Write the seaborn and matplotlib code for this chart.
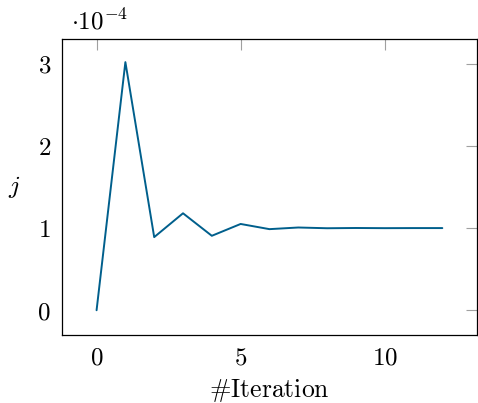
import matplotlib
matplotlib.use("Agg")
import matplotlib.pyplot as plt
import seaborn as sns
import pandas as pd

iterations = [0, 1, 2, 3, 4, 5, 6, 7, 8, 9, 10, 11, 12]
j_values = [0.0, 3.02e-4, 0.89e-4, 1.18e-4, 0.906e-4, 1.05e-4, 0.987e-4,
            1.007e-4, 0.998e-4, 1.001e-4, 0.999e-4, 1.0e-4, 1.0e-4]
x_ticks = [0, 5, 10]
y_ticks = [0, 1e-4, 2e-4, 3e-4]
y_tick_labels = ["0", "1", "2", "3"]

sns.set_style("white")
plt.rcParams["mathtext.fontset"] = "cm"
plt.rcParams["font.family"] = ["DejaVu Serif"]
plt.rcParams["text.color"] = "black"
plt.rcParams["axes.labelcolor"] = "black"
plt.rcParams["xtick.labelcolor"] = "black"
plt.rcParams["ytick.labelcolor"] = "black"

df = pd.DataFrame({"iter": iterations, "j": j_values})

fig = plt.figure(figsize=(4.78, 4.03), dpi=100)
ax = fig.add_axes([0.1297, 0.169, 0.868, 0.734])
sns.lineplot(data=df, x="iter", y="j", ax=ax, color="#005f8c", linewidth=1.4)

ax.set_xlim(-1.2, 13.2)
ax.set_ylim(-0.3e-4, 3.3e-4)
ax.set_xticks(x_ticks)
ax.set_xticklabels([f"${t}$" for t in x_ticks])
ax.set_yticks(y_ticks)
ax.set_yticklabels([f"${t}$" for t in y_tick_labels])
ax.tick_params(axis="both", which="both", direction="in", length=8, width=0.8,
               color="#a0a0a0", top=True, right=True, labelsize=18, pad=8,
               labelcolor="black")
for s in ax.spines.values():
    s.set_color("black")
    s.set_linewidth(0.9)

ax.set_xlabel(r"$\#\mathrm{Iteration}$", fontsize=18.5, labelpad=6, color="black")
ax.set_ylabel(r"$j$", fontsize=18.5, rotation=0, labelpad=17, va="center", color="black")
ax.text(0.022, 1.015, r"$\cdot 10^{-4}$", transform=ax.transAxes, fontsize=18,
        ha="left", va="bottom", color="black")

fig.savefig("out.png", dpi=100)
